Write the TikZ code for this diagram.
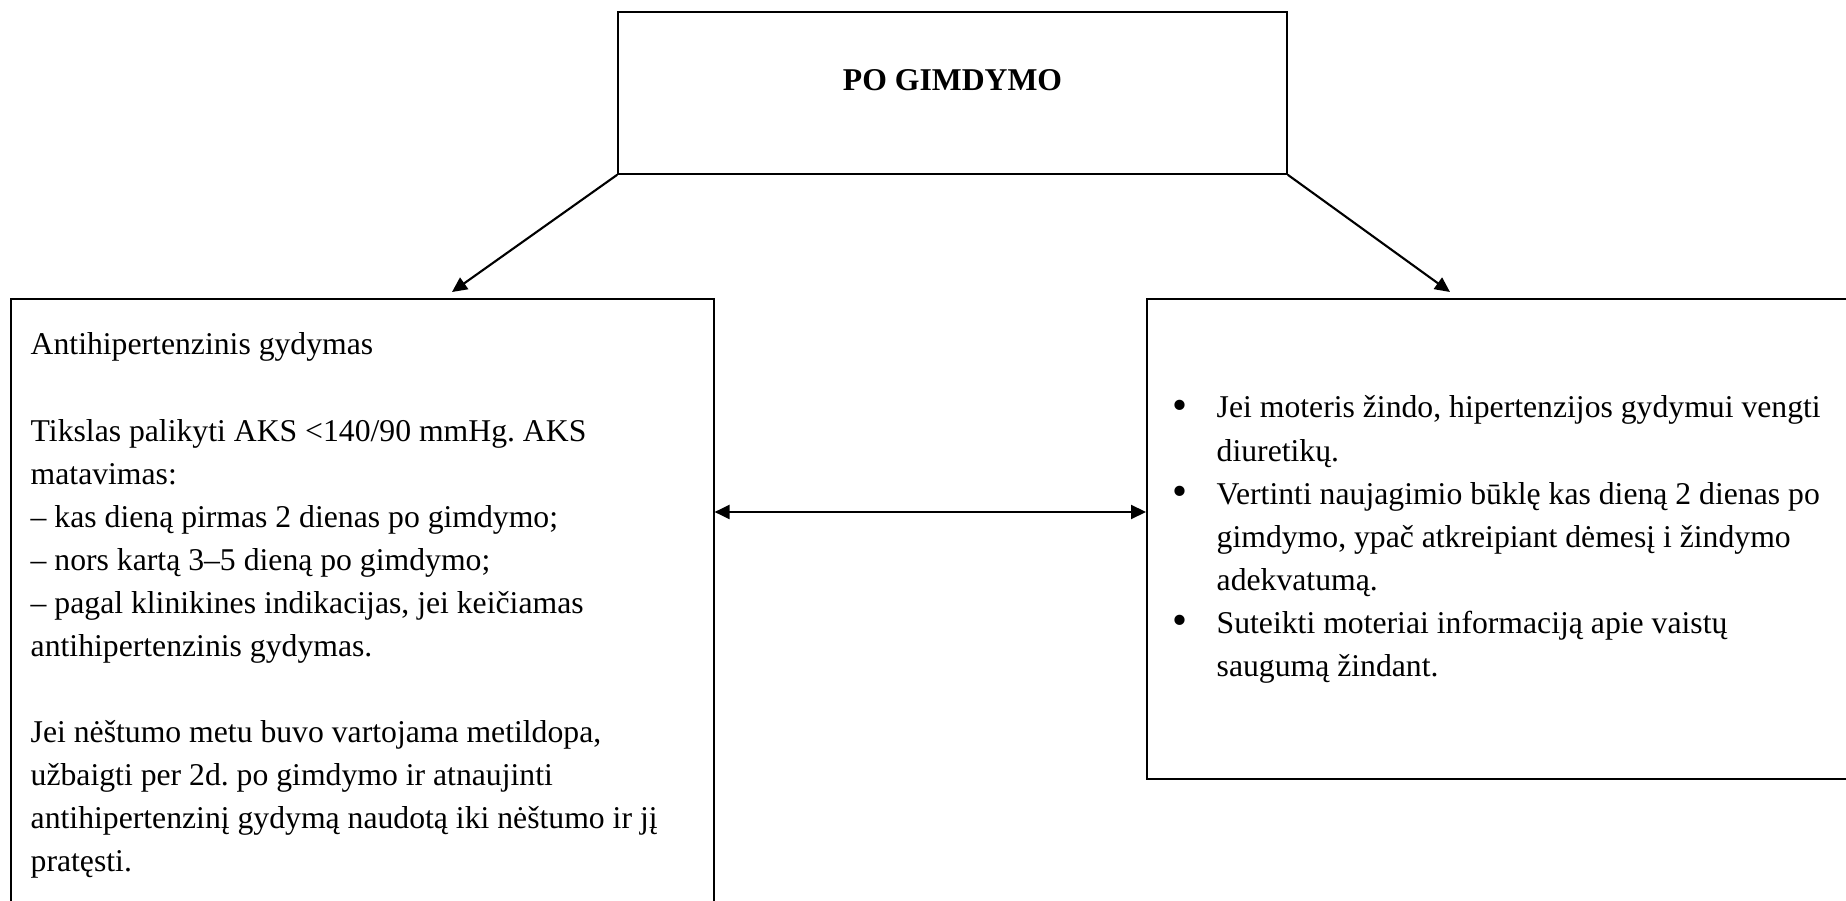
\documentclass[tikz,border=0pt]{standalone}
\usepackage{fontspec}
\usepackage{graphicx}
\setmainfont{Liberation Serif}
\frenchspacing
\usetikzlibrary{arrows.meta}
\newcommand{\bulletmark}{\makebox[0.44cm][l]{\raisebox{-0.015cm}{\scalebox{1.35}{\textbullet}}}}
\tikzset{
  panel/.style={draw, line width=0.45pt, inner sep=0pt},
  bodytext/.style={font=\fontsize{9.02}{12.24}\selectfont, align=flush left,
                   inner sep=0pt, text width=#1},
  flow/.style={line width=0.6pt, >={Triangle[length=0.15cm, width=0.14cm]}},
}

\begin{document}
\begin{tikzpicture}
\useasboundingbox (0,0) rectangle (18.46,-9.01);
\clip (0,0) rectangle (18.46,-9.01);

% --- Top box ---
\node[panel, minimum width=6.69cm, minimum height=1.62cm,
      font=\fontsize{9.02}{12.24}\selectfont\bfseries,
      text height=0.21cm, text depth=0.26cm] (birth) at (9.525,-0.93) {PO GIMDYMO};

% --- Left box: treatment ---
\node[panel, anchor=north west, minimum width=7.03cm, minimum height=7cm] (treat) at (0.10,-2.98) {};
\node[bodytext=6.9cm, anchor=base west] (treattext) at (0.30,-3.55)
  {Antihipertenzinis gydymas\\[12.24pt]
   Tikslas palikyti AKS <140/90 mmHg. AKS\\
   matavimas:\\
   – kas dieną pirmas 2 dienas po gimdymo;\\
   – nors kartą 3–5 dieną po gimdymo;\\
   – pagal klinikines indikacijas, jei keičiamas\\
   antihipertenzinis gydymas.\\[12.24pt]
   Jei nėštumo metu buvo vartojama metildopa,\\
   užbaigti per 2d. po gimdymo ir atnaujinti\\
   antihipertenzinį gydymą naudotą iki nėštumo ir jį\\
   pratęsti.};

% --- Right box: breastfeeding ---
\node[panel, anchor=north west, minimum width=7.6cm, minimum height=4.80cm] (care) at (11.46,-2.98) {};
\node[bodytext=7.2cm, anchor=base west] (caretext) at (11.72,-4.18)
  {\bulletmark Jei moteris žindo, hipertenzijos gydymui vengti\\
   \hspace*{0.44cm}diuretikų.\\
   \bulletmark Vertinti naujagimio būklę kas dieną 2 dienas po\\
   \hspace*{0.44cm}gimdymo, ypač atkreipiant dėmesį i žindymo\\
   \hspace*{0.44cm}adekvatumą.\\
   \bulletmark Suteikti moteriai informaciją apie vaistų\\
   \hspace*{0.44cm}saugumą žindant.};

% --- Arrows ---
\coordinate (tipL) at (4.52,-2.92);
\coordinate (tipR) at (14.50,-2.92);
\coordinate (mid) at (9.30,-5.12);
\draw[flow, ->] (birth.south west) -- (tipL);
\draw[flow, ->] (birth.south east) -- (tipR);
\draw[flow, <->] (treat.east |- mid) -- (care.west |- mid);

\end{tikzpicture}
\end{document}
